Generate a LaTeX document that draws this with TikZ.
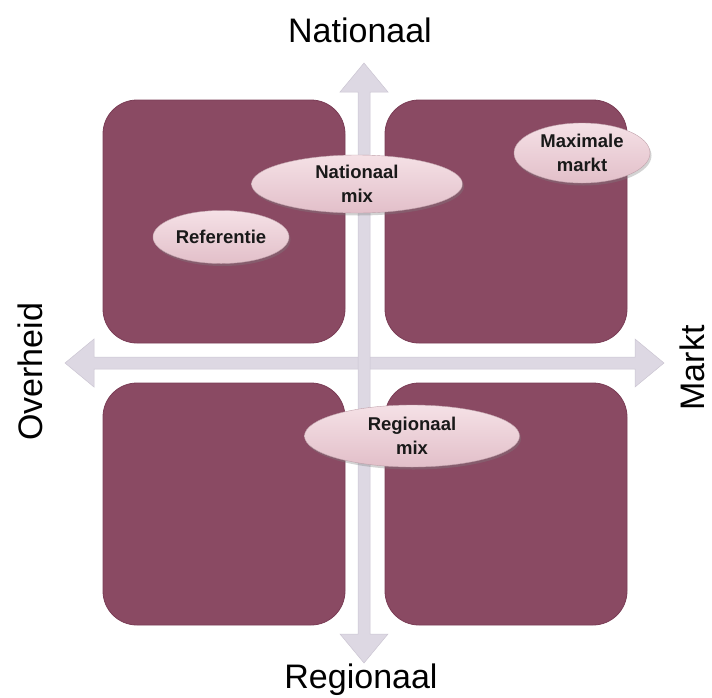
\documentclass[tikz,border=0pt]{standalone}
\usepackage{fontspec}
\setmainfont{Liberation Sans}
\usetikzlibrary{shapes.geometric,shadows}
\definecolor{sq}{HTML}{8A4A63}
\definecolor{sqedge}{HTML}{7A3C55}
\definecolor{arr}{HTML}{DDD8E3}
\definecolor{arredge}{HTML}{CBC5D2}
\definecolor{elltop}{HTML}{F5E1E6}
\definecolor{ellbot}{HTML}{E2BFC9}
\tikzset{
  quad/.style={fill=sq, draw=sqedge, line width=0.8pt, rounded corners=34pt},
  axisarrow/.style={fill=arr, draw=arredge, line width=0.5pt, line join=miter},
  oval/.style={ellipse, top color=elltop, bottom color=ellbot, draw=ellbot!85!black, line width=0.4pt,
    drop shadow={shadow xshift=1.5pt, shadow yshift=-2.5pt, opacity=0.35},
    inner sep=0pt, align=center, font=\fontsize{18.5}{23.5}\selectfont\bfseries, text=black!90},
  title/.style={font=\fontsize{34}{40}\selectfont, text=black, inner sep=0pt}
}
\begin{document}
\begin{tikzpicture}[x=1pt,y=-1pt]
\useasboundingbox (0,0) rectangle (712,697);
% horizontal arrow
\coordinate (hl) at (65,363);
\coordinate (hr) at (664,363);
\draw[axisarrow] (hl) -- ++(29,-24) -- ++(0,18) -- (635,357) -- ++(0,-18) -- (hr)
  -- (635,387) -- ++(0,-18) -- (94,369) -- ++(0,18) -- cycle;
% vertical arrow
\coordinate (vt) at (364,63);
\coordinate (vb) at (364,663);
\draw[axisarrow] (vt) -- ++(24,29) -- ++(-18,0) -- (370,634) -- ++(18,0) -- (vb)
  -- (340,634) -- ++(18,0) -- (358,92) -- ++(-18,0) -- cycle;
% quadrants
\draw[quad] (103,100) rectangle (345,343);
\draw[quad] (385,100) rectangle (627,343);
\draw[quad] (103,383) rectangle (345,625);
\draw[quad] (385,383) rectangle (627,625);
% ellipses
\node[oval, minimum width=211pt, minimum height=58pt] (natmix) at (357,184) {Nationaal\\mix};
\node[oval, minimum width=136pt, minimum height=53pt] (ref) at (221,237) {Referentie};
\node[oval, minimum width=215pt, minimum height=62pt] (regmix) at (412,436) {Regionaal\\mix};
\node[oval, minimum width=136pt, minimum height=60pt] (maxm) at (582,153) {Maximale\\markt};
% titles
\node[title] (nat) at (360,30) {Nationaal};
\node[title] (reg) at (361,680) {Regionaal};
\node[title, rotate=90] (ovh) at (30,372) {Overheid};
\node[title, rotate=90] (mkt) at (692,368) {Markt};
\end{tikzpicture}
\end{document}
